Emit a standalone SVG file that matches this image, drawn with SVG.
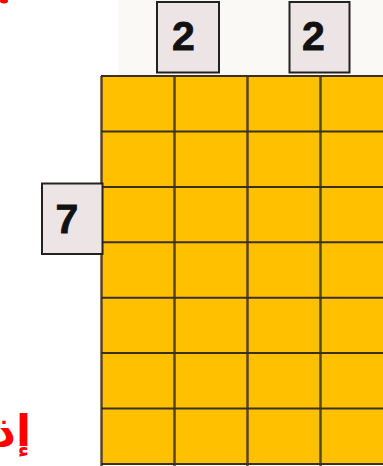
<svg xmlns="http://www.w3.org/2000/svg" width="383" height="466" viewBox="0 0 383 466">
<style>
.cell{fill:#ffc000}
.grid{stroke:#3a3020;stroke-width:2;fill:none}
.vline{stroke:#3a3020;stroke-width:2.5;stroke-opacity:0.85}
.box{fill:#ede5e5;stroke:#222;stroke-width:2}
.num{font-family:"Liberation Sans",Arial,sans-serif;font-weight:bold;font-size:41px;fill:#111;text-anchor:middle;stroke:#111;stroke-width:0.8}
.ar{font-family:"DejaVu Sans","Noto Sans",sans-serif;font-weight:bold;font-size:44px;fill:#ff0000}
</style>
<rect x="0" y="0" width="383" height="466" fill="#ffffff"/>
<rect x="119" y="0" width="264" height="76" fill="#fbf9f5"/>
<ellipse cx="4" cy="1" rx="4" ry="2.5" fill="#ff0000"/>
<g id="grid">
<rect class="cell" x="101" y="76" width="284" height="388"/>
<g class="grid">
<line x1="101" y1="76" x2="385" y2="76"/>
<line x1="101" y1="131.4" x2="385" y2="131.4"/>
<line x1="101" y1="186.9" x2="385" y2="186.9"/>
<line x1="101" y1="242.3" x2="385" y2="242.3"/>
<line x1="101" y1="297.7" x2="385" y2="297.7"/>
<line x1="101" y1="353.1" x2="385" y2="353.1"/>
<line x1="101" y1="408.6" x2="385" y2="408.6"/>
<line x1="101" y1="464" x2="385" y2="464"/>
</g>
<line class="vline" x1="101.5" y1="76" x2="101.5" y2="466" stroke="#777"/>
<line class="vline" x1="174.5" y1="76" x2="174.5" y2="466"/>
<line class="vline" x1="247.5" y1="76" x2="247.5" y2="466"/>
<line class="vline" x1="320.5" y1="76" x2="320.5" y2="466"/>
</g>
<g id="label-top-1">
<rect class="box" x="157" y="2" width="62" height="70.5"/>
<text class="num" x="183.5" y="50">2</text>
</g>
<g id="label-top-2">
<rect class="box" x="289.5" y="2" width="60" height="70.5"/>
<text class="num" x="313.5" y="50">2</text>
</g>
<g id="label-left">
<rect class="box" x="42" y="183.5" width="60.5" height="70.5"/>
<text class="num" x="67" y="233">7</text>
</g>
<text class="ar" x="31" y="446" direction="rtl" text-anchor="start">إذ</text>
</svg>
